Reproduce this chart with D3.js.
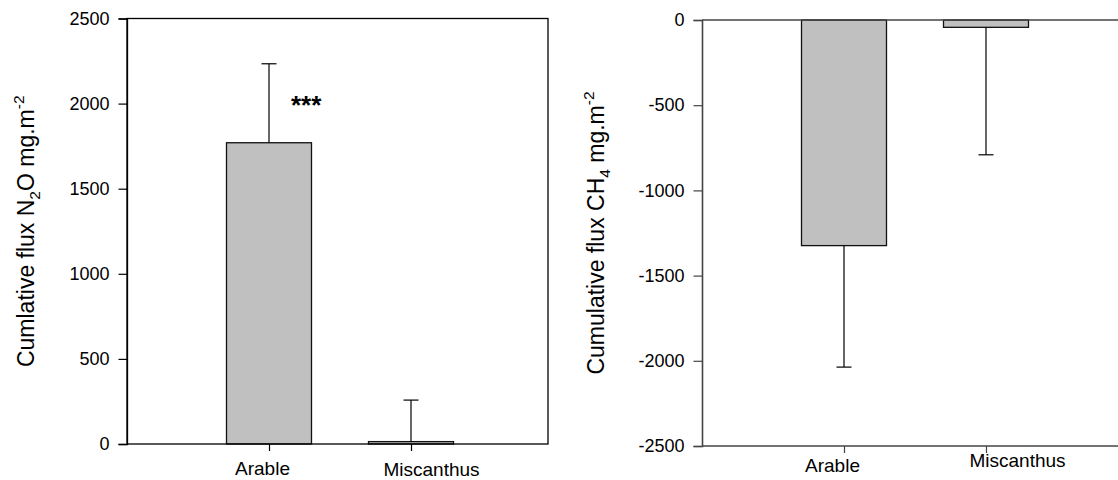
<!DOCTYPE html>
<html>
<head>
<meta charset="utf-8">
<script src="https://cdn.jsdelivr.net/npm/d3@7"></script>
<style>
  html, body { margin: 0; padding: 0; background: #fff; }
  svg { display: block; font-family: "Liberation Sans", Arial, sans-serif; }
</style>
</head>
<body>
<svg id="chart" width="1118" height="480"></svg>
<script>
// ---- data ----
const categories = ["Arable", "Miscanthus"];
const n2oMeans = [1770, 14];
const n2oErrors = [464, 244];
const ch4Means = [-1324, -43];
const ch4Errors = [713, 748];
const n2oTicks = [0, 500, 1000, 1500, 2000, 2500];
const ch4Ticks = [0, -500, -1000, -1500, -2000, -2500];
const significance = ["***", ""];

const svg = d3.select("#chart");

function panel(opts) {
  const g = svg.append("g");
  const x = d3.scalePoint().domain(categories).range([opts.left, opts.left + 426]).padding(1);
  const y = d3.scaleLinear().domain(opts.domain).range([opts.bottom, opts.top]);
  const barW = 85;
  const means = opts.means, errs = opts.errors;

  // bars
  g.selectAll("rect.bar").data(categories).enter().append("rect")
    .attr("class", "bar")
    .attr("x", d => x(d) - barW / 2)
    .attr("width", barW)
    .attr("y", (d, i) => Math.min(y(means[i]), y(0)))
    .attr("height", (d, i) => Math.abs(y(means[i]) - y(0)))
    .attr("fill", "#c0c0c0")
    .attr("stroke", "#111")
    .attr("stroke-width", 1.3);

  // error bars (away from zero)
  categories.forEach((c, i) => {
    const sign = means[i] >= 0 ? 1 : -1;
    const yEnd = y(means[i] + sign * errs[i]);
    g.append("line")
      .attr("x1", x(c)).attr("x2", x(c))
      .attr("y1", y(means[i])).attr("y2", yEnd)
      .attr("stroke", "#000").attr("stroke-width", 1.2);
    g.append("line")
      .attr("x1", x(c) - 7.5).attr("x2", x(c) + 7.5)
      .attr("y1", yEnd).attr("y2", yEnd)
      .attr("stroke", "#000").attr("stroke-width", 1.2);
  });

  // frame lines
  const fc = opts.frameColor;
  if (opts.fullFrame) {
    g.append("rect")
      .attr("x", opts.left).attr("y", opts.top)
      .attr("width", opts.right - opts.left).attr("height", opts.bottom - opts.top)
      .attr("fill", "none").attr("stroke", fc).attr("stroke-width", 1.3);
  } else {
    g.append("line").attr("x1", opts.left).attr("x2", opts.right)
      .attr("y1", opts.top).attr("y2", opts.top)
      .attr("stroke", fc).attr("stroke-width", 1.6);
    g.append("line").attr("x1", opts.left).attr("x2", opts.right)
      .attr("y1", opts.bottom).attr("y2", opts.bottom)
      .attr("stroke", fc).attr("stroke-width", 1.6);
  }

  // y axis
  const yAxis = g.append("g")
    .attr("transform", `translate(${opts.left},0)`)
    .call(d3.axisLeft(y).tickValues(opts.ticks).tickSize(8.5).tickPadding(9)
      .tickFormat(d => String(d)));
  yAxis.select(".domain").attr("stroke", fc).attr("stroke-width", opts.fullFrame ? 1.3 : 1.6);
  yAxis.selectAll(".tick line").attr("stroke", fc).attr("stroke-width", 1.2);
  yAxis.selectAll(".tick text").attr("font-size", 18).attr("fill", "#000")
    .attr("font-family", "'Liberation Sans', Arial, sans-serif");

  // x axis
  const xAxis = g.append("g")
    .attr("transform", `translate(0,${opts.bottom})`)
    .call(d3.axisBottom(x).tickSize(7).tickPadding(0));
  xAxis.select(".domain").remove();
  xAxis.selectAll(".tick line").attr("stroke", fc).attr("stroke-width", 1.2);
  xAxis.selectAll(".tick text")
    .attr("font-size", 19).attr("fill", "#000")
    .attr("font-family", "'Liberation Sans', Arial, sans-serif")
    .attr("dy", null)
    .attr("x", (d, i) => opts.labelDx[i])
    .attr("y", (d, i) => opts.labelBaseline[i]);

  // y title
  const cx = opts.titleX, cy = (opts.top + opts.bottom) / 2;
  const t = g.append("text")
    .attr("transform", `translate(${cx},${cy}) rotate(-90)`)
    .attr("text-anchor", "middle")
    .attr("font-size", 23)
    .attr("fill", "#000");
  opts.title.forEach(part => {
    const ts = t.append("tspan").text(part.text);
    if (part.sub) ts.attr("font-size", 15.5).attr("dy", 6);
    else if (part.sup) ts.attr("font-size", 15.5).attr("dy", -10.5);
    else if (part.after) ts.attr("dy", part.after);
  });
  return {x, y, g};
}

const left = panel({
  left: 127, right: 548, top: 18.5, bottom: 444,
  domain: [0, 2500], ticks: n2oTicks,
  means: n2oMeans, errors: n2oErrors,
  frameColor: "#000", fullFrame: true,
  labelDx: [-7, 20], labelBaseline: [31, 31.5],
  titleX: 34,
  title: [
    {text: "Cumlative flux N"}, {text: "2", sub: true},
    {text: "O mg.m", after: -6}, {text: "-2", sup: true}
  ]
});

// significance marker
left.g.selectAll("text.sig").data(categories).enter().append("text")
  .attr("class", "sig")
  .attr("x", d => left.x(d) + 22)
  .attr("y", 114)
  .attr("font-size", 26)
  .attr("font-weight", "bold")
  .attr("fill", "#000")
  .text((d, i) => significance[i]);

panel({
  left: 702, right: 1130, top: 20, bottom: 446,
  domain: [-2500, 0], ticks: ch4Ticks,
  means: ch4Means, errors: ch4Errors,
  frameColor: "#444", fullFrame: false,
  labelDx: [-12, 31], labelBaseline: [26, 21],
  titleX: 604,
  title: [
    {text: "Cumulative flux CH"}, {text: "4", sub: true},
    {text: " mg.m", after: -6}, {text: "-2", sup: true}
  ]
});
</script>
</body>
</html>
